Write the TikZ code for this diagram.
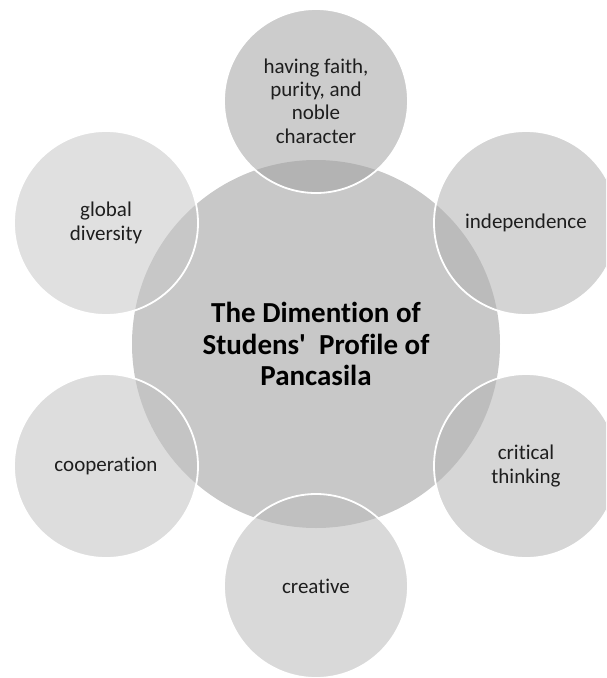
\documentclass[tikz,border=0pt]{standalone}
\usepackage{fontspec}
\setmainfont[Ligatures={NoCommon}]{Carlito}
\definecolor{txt}{HTML}{1E1E1E}
\definecolor{hub}{HTML}{C8C8C8}
\definecolor{satA}{HTML}{A2A2A2}
\definecolor{satB}{HTML}{B1B1B1}
\definecolor{satC}{HTML}{B4B4B4}
\definecolor{satD}{HTML}{BABABA}
\definecolor{satE}{HTML}{C1C1C1}
\definecolor{satF}{HTML}{C7C7C7}
\tikzset{
  hubnode/.style={circle, fill=hub, draw=none, minimum size=368pt, inner sep=0pt,
    align=center, text=black, font=\fontsize{29}{31.7}\selectfont\bfseries},
  satnode/.style={circle, fill=#1, fill opacity=0.55, text opacity=1, draw=white, draw opacity=1,
    line width=1.8pt, minimum size=184pt, inner sep=0pt, align=center, text=txt,
    font=\fontsize{21}{23.4}\selectfont},
}
\begin{document}
\begin{tikzpicture}[x=1pt,y=-1pt]
\useasboundingbox (0,0) rectangle (606,678);
\begin{scope}
\clip (0,0) rectangle (606,678);
\node[hubnode] (hub) at (316,344) {The Dimention of\\Studens\textquotesingle\ \ Profile of\\Pancasila};
\node[satnode=satA] (faith) at (316,101) {having faith,\\purity, and\\noble\\character};
\node[satnode=satB] (indep) at (526,223) {independence};
\node[satnode=satC] (crit) at (526,466) {critical\\thinking};
\node[satnode=satD] (creat) at (316,586) {creative};
\node[satnode=satE] (coop) at (106,466) {cooperation};
\node[satnode=satF] (glob) at (106,223) {global\\diversity};
\end{scope}
\end{tikzpicture}
\end{document}
